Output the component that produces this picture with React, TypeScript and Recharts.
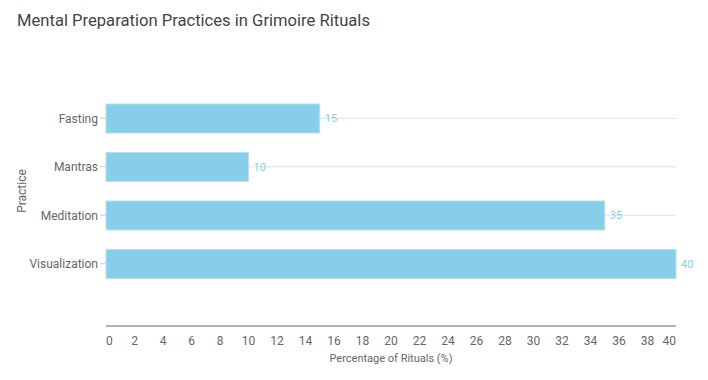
import { BarChart, Bar, XAxis, YAxis, CartesianGrid, LabelList } from "recharts";

const practices = ["Fasting", "Mantras", "Meditation", "Visualization"];
const percentages = [15, 10, 35, 40];
const xTicks = [0, 2, 4, 6, 8, 10, 12, 14, 16, 18, 20, 22, 24, 26, 28, 30, 32, 34, 36, 38, 40];

const data = practices.map((practice, i) => ({ practice, value: percentages[i] }));

const FONT = "Roboto, 'Noto Sans', sans-serif";

function XTick(props: any) {
  const { x, y, payload, index } = props;
  const last = index === xTicks.length - 1;
  const anchor = index === 0 ? "start" : last ? "end" : "middle";
  return (
    <text x={x} y={y} dy="0.71em" textAnchor={anchor} fill="#666" fontSize={12} fontFamily={FONT}>
      {payload.value}
    </text>
  );
}

function PracticeLabel(props: any) {
  const { viewBox } = props;
  const cx = viewBox.x + 22;
  const cy = viewBox.y + (viewBox.height - 38) / 2;
  return (
    <text x={cx} y={cy} transform={`rotate(-90 ${cx} ${cy})`} textAnchor="middle" dominantBaseline="central" fill="#666" fontSize={12} fontFamily={FONT}>
      Practice
    </text>
  );
}

export default function App() {
  return (
    <div style={{ position: "absolute", left: 0, top: 0, width: 708, height: 380, background: "#fff", fontFamily: FONT }}>
      <div style={{ position: "absolute", left: 17, top: 11, fontSize: 16.6, color: "#444", whiteSpace: "nowrap" }}>
        Mental Preparation Practices in Grimoire Rituals
      </div>
      <BarChart
        width={708}
        height={380}
        data={data}
        layout="vertical"
        margin={{ top: 94, right: 32, bottom: 14, left: 0 }}
      >
        {/* lines only through the category centres */}
        <CartesianGrid vertical={false} stroke="#e0e0e0" syncWithTicks />
        <XAxis
          type="number"
          domain={[0, 40]}
          ticks={xTicks}
          interval={0}
          tickLine={false}
          axisLine={{ stroke: "#666" }}
          tick={<XTick />}
          tickMargin={4}
          height={40}
          label={{ value: "Percentage of Rituals (%)", position: "insideBottom", offset: 4, fill: "#666", fontSize: 11, fontFamily: FONT }}
        />
        <YAxis
          type="category"
          dataKey="practice"
          width={106}
          axisLine={false}
          tickLine={{ stroke: "#ccc" }}
          tickSize={6}
          tickMargin={2}
          padding={{ top: 0, bottom: 38 }}
          tick={{ fill: "#666", fontSize: 12, fontFamily: FONT }}
          label={<PracticeLabel />}
        />
        <Bar dataKey="value" fill="#87CEEB" stroke="#b3e0f2" strokeWidth={1} barSize={29} isAnimationActive={false}>
          <LabelList dataKey="value" position="right" offset={5} fill="#87CEEB" fontSize={11} fontFamily={FONT} />
        </Bar>
      </BarChart>
    </div>
  );
}
